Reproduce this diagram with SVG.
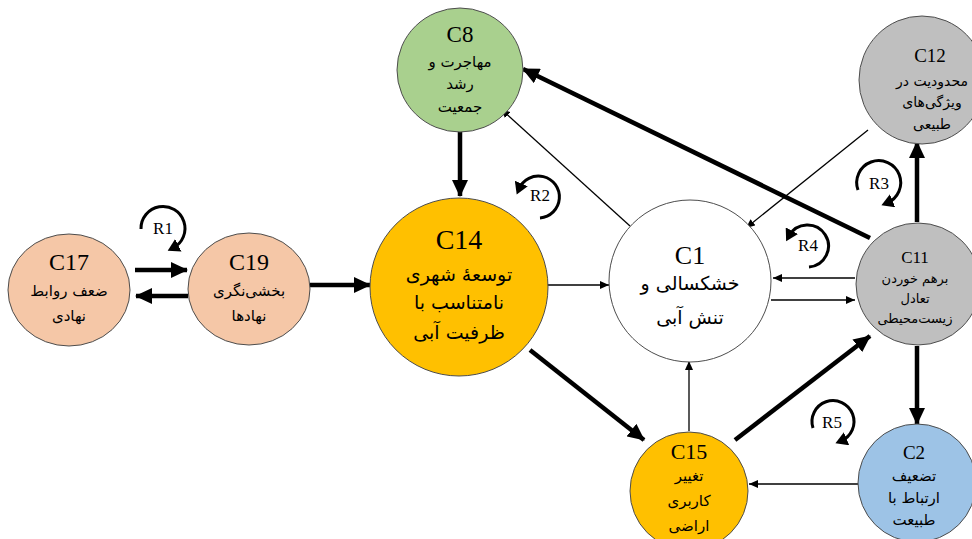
<svg xmlns="http://www.w3.org/2000/svg" width="972" height="539" viewBox="0 0 972 539">
<style>
.node{stroke:#4d4d4d;stroke-width:1}
.peach{fill:#F5C7A7}.green{fill:#A9D08E}.gold{fill:#FFC000}.white{fill:#FFFFFF}.gray{fill:#BFBFBF}.blue{fill:#9DC3E6}
.lbl{font-family:"Liberation Serif","DejaVu Serif",serif;fill:#000;text-anchor:middle}
.fa{font-family:"DejaVu Sans","Noto Sans",sans-serif;fill:#000;text-anchor:middle}
.thick{stroke:#000;stroke-width:4.5;fill:none;marker-end:url(#ah)}
.thin{stroke:#000;stroke-width:1.3;fill:none;marker-end:url(#as)}
.loop{stroke:#000;stroke-width:3;fill:none;marker-end:url(#al)}
.rl{font-family:"Liberation Serif",serif;font-size:17px;fill:#000;text-anchor:middle}
</style>
<defs>
<marker id="ah" markerUnits="userSpaceOnUse" markerWidth="18" markerHeight="16" refX="16" refY="8" orient="auto"><path d="M0,0 L17,8 L0,16 Z" fill="#000"/></marker>
<marker id="as" markerUnits="userSpaceOnUse" markerWidth="10" markerHeight="8" refX="9" refY="4" orient="auto"><path d="M0,0 L9,4 L0,8 Z" fill="#000"/></marker>
<marker id="al" markerUnits="userSpaceOnUse" markerWidth="14" markerHeight="14" refX="6" refY="7" orient="auto"><path d="M0,0 L12,7 L0,14 Z" fill="#000"/></marker>
</defs>
<g id="connectors">
<line class="thick" x1="135" y1="270" x2="187" y2="270"/>
<line class="thick" x1="188" y1="296" x2="136" y2="296"/>
<line class="thick" x1="310" y1="285" x2="370" y2="285"/>
<line class="thick" x1="460" y1="130" x2="460" y2="196"/>
<line class="thin" x1="547" y1="285" x2="609" y2="285"/>
<line class="thin" x1="630" y1="226" x2="501" y2="109"/>
<line class="thick" x1="870" y1="238" x2="523" y2="69"/>
<line class="thin" x1="868" y1="130" x2="746" y2="228"/>
<line class="thick" x1="917" y1="222" x2="917" y2="142"/>
<line class="thin" x1="855" y1="278" x2="773" y2="278"/>
<line class="thin" x1="771" y1="300" x2="855" y2="300"/>
<line class="thick" x1="530" y1="350" x2="644" y2="440"/>
<line class="thin" x1="689" y1="431" x2="689" y2="361"/>
<line class="thick" x1="735" y1="440" x2="870" y2="336"/>
<line class="thick" x1="917" y1="346" x2="917" y2="424"/>
<line class="thin" x1="859" y1="484" x2="749" y2="484"/>
</g>
<g id="loops">
<path class="loop" d="M141,229 A22,22 0 1,1 173,248"/>
<text class="rl" x="163" y="234">R1</text>
<path class="loop" d="M540,218 A21,21 0 1,0 519,189"/>
<text class="rl" x="540" y="201">R2</text>
<path class="loop" d="M858,190 A22,22 0 1,1 887,203"/>
<text class="rl" x="879" y="189">R3</text>
<path class="loop" d="M809,267 A21,21 0 1,0 789,236"/>
<text class="rl" x="808" y="251">R4</text>
<path class="loop" d="M813,428 A21,21 0 1,1 841,441"/>
<text class="rl" x="832" y="428">R5</text>
</g>
<g id="C17">
<ellipse class="node peach" cx="69" cy="290" rx="61" ry="56"/>
<text class="lbl" x="69" y="270" font-size="24">C17</text>
<text class="fa" x="69" y="296" font-size="15">ضعف روابط</text>
<text class="fa" x="69" y="321" font-size="15">نهادی</text>
</g>
<g id="C19">
<ellipse class="node peach" cx="249" cy="289" rx="61" ry="56"/>
<text class="lbl" x="249" y="270" font-size="24">C19</text>
<text class="fa" x="249" y="296" font-size="15">بخشی‌نگری</text>
<text class="fa" x="249" y="321" font-size="15">نهادها</text>
</g>
<g id="C8">
<ellipse class="node green" cx="460" cy="70" rx="63" ry="62"/>
<text class="lbl" x="460" y="42" font-size="23">C8</text>
<text class="fa" x="460" y="67" font-size="15">مهاجرت و</text>
<text class="fa" x="460" y="89" font-size="15">رشد</text>
<text class="fa" x="460" y="112" font-size="15">جمعیت</text>
</g>
<g id="C14">
<circle class="node gold" cx="459" cy="287" r="89"/>
<text class="lbl" x="459" y="249" font-size="28">C14</text>
<text class="fa" x="459" y="281" font-size="19">توسعهٔ شهری</text>
<text class="fa" x="459" y="309" font-size="19">نامتناسب با</text>
<text class="fa" x="459" y="339" font-size="19">ظرفیت آبی</text>
</g>
<g id="C1">
<circle class="node white" cx="690" cy="281" r="81"/>
<text class="lbl" x="690" y="264" font-size="26">C1</text>
<text class="fa" x="690" y="290" font-size="19">خشکسالی و</text>
<text class="fa" x="690" y="324" font-size="19">تنش آبی</text>
</g>
<g id="C12">
<ellipse class="node gray" cx="922" cy="80" rx="63" ry="64"/>
<text class="lbl" x="930" y="62" font-size="19">C12</text>
<text class="fa" x="932" y="86" font-size="14">محدودیت در</text>
<text class="fa" x="932" y="107" font-size="14">ویژگی‌های</text>
<text class="fa" x="932" y="129" font-size="14">طبیعی</text>
</g>
<g id="C11">
<ellipse class="node gray" cx="918" cy="284" rx="62" ry="61"/>
<text class="lbl" x="915" y="263" font-size="17">C11</text>
<text class="fa" x="915" y="283" font-size="13">برهم خوردن</text>
<text class="fa" x="915" y="303" font-size="13">تعادل</text>
<text class="fa" x="915" y="323" font-size="13">زیست‌محیطی</text>
</g>
<g id="C15">
<circle class="node gold" cx="689" cy="491" r="59"/>
<text class="lbl" x="689" y="459" font-size="22">C15</text>
<text class="fa" x="689" y="481" font-size="15">تغییر</text>
<text class="fa" x="689" y="506" font-size="15">کاربری</text>
<text class="fa" x="689" y="531" font-size="15">اراضی</text>
</g>
<g id="C2">
<circle class="node blue" cx="917" cy="483" r="59"/>
<text class="lbl" x="914" y="459" font-size="19">C2</text>
<text class="fa" x="914" y="481" font-size="15">تضعیف</text>
<text class="fa" x="914" y="503" font-size="15">ارتباط با</text>
<text class="fa" x="914" y="525" font-size="15">طبیعت</text>
</g>
</svg>
